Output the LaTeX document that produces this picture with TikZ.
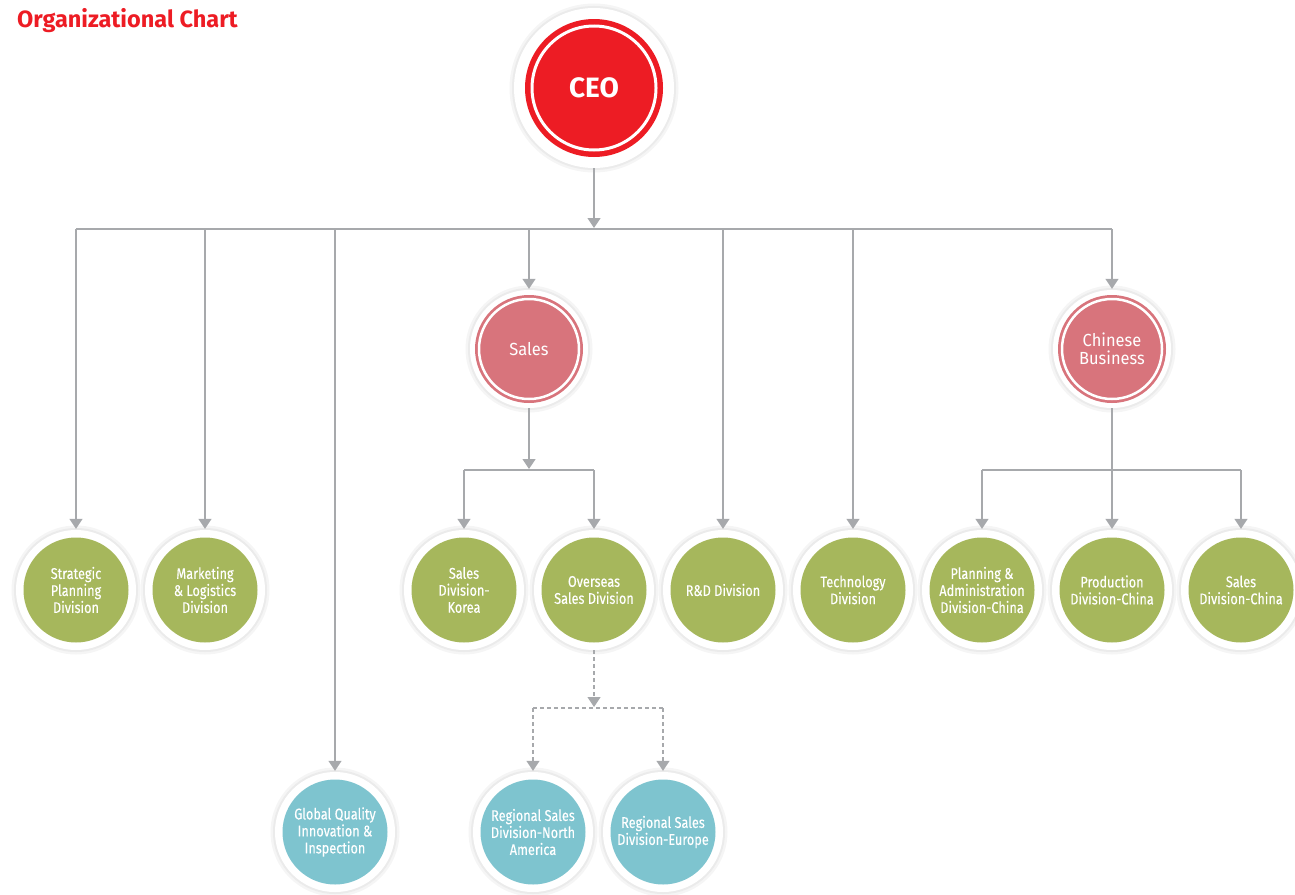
\documentclass[tikz,border=0pt]{standalone}
\usepackage{fontspec}
\setmainfont{Fira Sans}
\newfontfamily\condfont[FakeStretch=0.82, FakeBold=0.2]{Fira Sans}
\newfontfamily\midfont[FakeStretch=0.94]{Fira Sans}
\usetikzlibrary{arrows.meta}
\definecolor{ceored}{HTML}{ED1C24}
\definecolor{pinkc}{HTML}{D8747C}
\definecolor{greenc}{HTML}{A6B75C}
\definecolor{bluec}{HTML}{7EC4CF}
\definecolor{linec}{HTML}{A7A9AC}
\tikzset{
  x=1pt, y=-1pt,
  disc/.style={circle, inner sep=0pt, fill=white, text=white, align=center,
    preaction={draw=black!4, line width=9pt},
    preaction={draw=black!8, line width=4pt}},
  leaf/.style={disc, minimum size=120pt,
    font=\condfont\fontsize{15.5}{17}\selectfont,
    path picture={\fill[#1] (path picture bounding box.center) circle (52.5pt);}},
  mid/.style={disc, minimum size=118pt,
    font=\midfont\fontsize{17.5}{18.5}\selectfont,
    path picture={\fill[pinkc] (path picture bounding box.center) circle (54pt);
      \draw[white, line width=2.5pt] (path picture bounding box.center) circle (50pt);}},
  top/.style={disc, minimum size=160pt,
    font=\bfseries\fontsize{28}{30}\selectfont,
    path picture={\fill[ceored] (path picture bounding box.center) circle (69pt);
      \draw[white, line width=3pt] (path picture bounding box.center) circle (62pt);}},
  conn/.style={draw=linec, line width=1.3pt},
  arr/.style={conn, -{Triangle[width=13pt,length=10pt]}, shorten >=1pt},
  dashline/.style={dash pattern=on 4pt off 3pt}
}
\begin{document}
\begin{tikzpicture}
\useasboundingbox (0,0) rectangle (1295,894);
\node[anchor=west, inner sep=0pt, text=ceored, font=\bfseries\fontsize{23.5}{25}\selectfont] (title) at (17,21) {Organizational Chart};

\node[top] (ceo) at (594,88) {CEO};
\node[mid] (sales) at (529,349) {Sales};
\node[mid] (cb) at (1112,349) {Chinese\\Business};

\node[leaf=greenc] (strat) at (76,590) {Strategic\\Planning\\Division};
\node[leaf=greenc] (mkt) at (205,590) {Marketing\\\& Logistics\\Division};
\node[leaf=greenc] (sk) at (464,590) {Sales\\Division-\\Korea};
\node[leaf=greenc] (os) at (594,590) {Overseas\\Sales Division};
\node[leaf=greenc] (rd) at (723,590) {R\&D Division};
\node[leaf=greenc] (tech) at (853,590) {Technology\\Division};
\node[leaf=greenc] (pa) at (982,590) {Planning \&\\Administration\\Division-China};
\node[leaf=greenc] (prod) at (1112,590) {Production\\Division-China};
\node[leaf=greenc] (sc) at (1241,590) {Sales\\Division-China};

\node[leaf=bluec] (gq) at (335,832) {Global Quality\\Innovation \&\\Inspection};
\node[leaf=bluec] (na) at (533,832) {Regional Sales\\Division-North\\America};
\node[leaf=bluec] (eu) at (663,832) {Regional Sales\\Division-Europe};

\coordinate (bus) at (594,229);
\coordinate (sbus) at (529,470);
\coordinate (cbus) at (1112,470);
\coordinate (obus) at (594,708);

% CEO level
\draw[arr] (ceo.south) -- (bus);
\draw[conn] (strat |- bus) -- (cb |- bus);
\foreach \n in {strat,mkt,rd,tech} \draw[arr] (\n |- bus) -- (\n.north);
\draw[arr] (gq |- bus) -- (gq.north);
\draw[arr] (sales |- bus) -- (sales.north);
\draw[arr] (cb |- bus) -- (cb.north);

% Sales
\draw[arr] (sales.south) -- (sbus);
\draw[conn] (sk |- sbus) -- (os |- sbus);
\draw[arr] (sk |- sbus) -- (sk.north);
\draw[arr] (os |- sbus) -- (os.north);

% Chinese business
\draw[arr] (cb.south) -- (prod.north);
\draw[conn] (pa |- cbus) -- (sc |- cbus);
\draw[arr] (pa |- cbus) -- (pa.north);
\draw[arr] (sc |- cbus) -- (sc.north);

% Overseas (dashed)
\draw[arr, dashline] (os.south) -- (obus);
\draw[conn, dashline] (na |- obus) -- (eu |- obus);
\draw[arr, dashline] (na |- obus) -- (na.north);
\draw[arr, dashline] (eu |- obus) -- (eu.north);
\end{tikzpicture}
\end{document}
